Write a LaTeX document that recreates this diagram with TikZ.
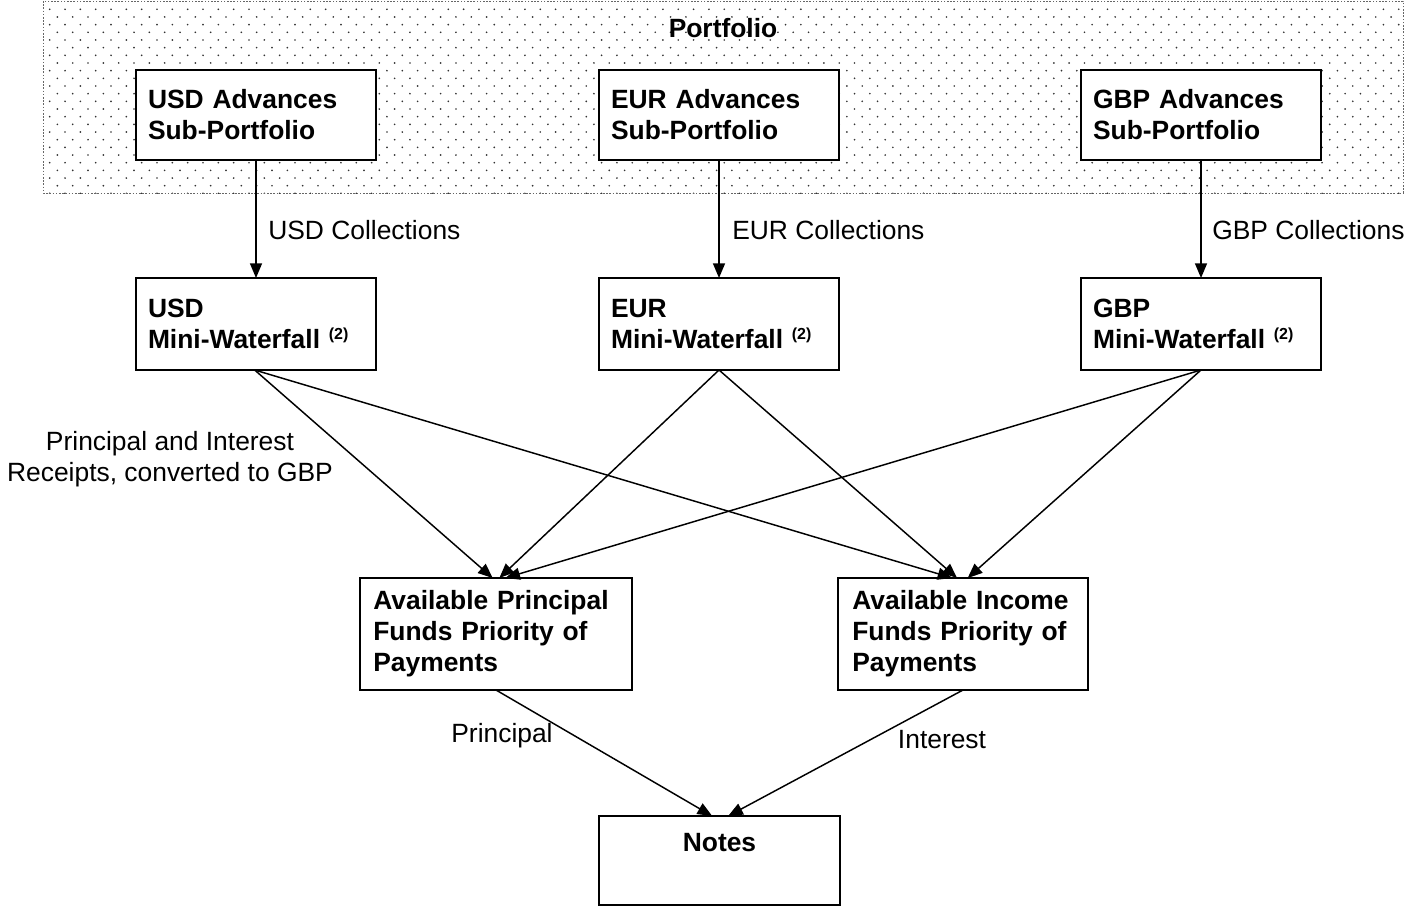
\documentclass[tikz,border=0pt]{standalone}
\usepackage{fontspec}
\setmainfont{Liberation Sans}
\usetikzlibrary{arrows.meta}
\begin{document}
\begin{tikzpicture}[x=0.75pt,y=-0.75pt,
  font=\fontsize{19.8}{23.25}\selectfont,
  box/.style={draw,line width=1.5pt,fill=white,outer sep=0pt,inner ysep=0pt,align=left},
  topbox/.style={box,minimum width=180pt,minimum height=67.5pt,inner xsep=9pt,text width=162pt,font=\fontsize{19.8}{23.25}\selectfont\bfseries},
  prbox/.style={box,minimum height=84pt,inner xsep=10pt,font=\fontsize{19.8}{23.25}\selectfont\bfseries},
  flow/.style={line width=1.1pt,-{Triangle[length=11pt,width=9pt]}},
  lbl/.style={inner sep=0pt,align=center}]
\useasboundingbox (0,0) rectangle (1408,906);

% portfolio area: dotted background with a fine dashed border
\begin{scope}
  \clip (43,1) rectangle (1403,193);
  \foreach \r in {0,...,24}{
    \foreach \c in {0,...,89}{
      \fill[black!80] ({49.7+15.33*\c+7.67*mod(\r,2)},{9.3+7.67*\r}) circle (0.7pt);
    }
  }
\end{scope}
\draw[black!60,line width=0.6pt,dash pattern=on 1.2pt off 1.2pt] (43,1) rectangle (1403,193);
\node[font=\fontsize{19.8}{23.25}\selectfont\bfseries] (portfolio) at (723,28) {Portfolio};

% sub-portfolios
\node[topbox] (usdP) at (256,115) {USD Advances\\Sub-Portfolio};
\node[topbox] (eurP) at (719,115) {EUR Advances\\Sub-Portfolio};
\node[topbox] (gbpP) at (1201,115) {GBP Advances\\Sub-Portfolio};

% mini-waterfalls
\newcommand{\fnref}{\ \raisebox{7pt}{\fontsize{12}{12}\selectfont(2)}}
\node[topbox,minimum height=69pt] (usdM) at (256,324) {USD\\Mini-Waterfall\fnref};
\node[topbox,minimum height=69pt] (eurM) at (719,324) {EUR\\Mini-Waterfall\fnref};
\node[topbox,minimum height=69pt] (gbpM) at (1201,324) {GBP\\Mini-Waterfall\fnref};

% priorities of payments
\node[prbox,text width=184pt] (prin) at (496,634) {Available Principal\\Funds Priority of\\Payments};
\node[prbox,text width=166pt,inner xsep=11pt] (inc) at (963,634) {Available Income\\Funds Priority of\\Payments};

% notes
\node[box,minimum width=180.75pt,minimum height=66.75pt] (notes) at (719.5,860.5) {};
\node[font=\fontsize{19.8}{23.25}\selectfont\bfseries,inner sep=0pt] (notestxt) at (719.5,843) {Notes};

% collections
\draw[flow] (usdP.south) -- (usdM.north);
\draw[flow] (eurP.south) -- (eurM.north);
\draw[flow] (gbpP.south) -- (gbpM.north);
\node[lbl,anchor=west] (usdC) at (268,230) {USD Collections};
\node[lbl,anchor=west] (eurC) at (732,230) {EUR Collections};
\node[lbl,anchor=west] (gbpC) at (1212,230) {GBP Collections};

% receipts into the two priorities of payments
\draw[flow] ([xshift=-1pt]usdM.south) -- ([xshift=-2.5pt]prin.north);
\draw[flow] ([xshift=-1pt]usdM.south) -- ([xshift=-8pt]inc.north);
\draw[flow] (eurM.south) -- ([xshift=2.5pt]prin.north);
\draw[flow] (eurM.south) -- ([xshift=-4.5pt]inc.north);
\draw[flow] (gbpM.south) -- ([xshift=7pt]prin.north);
\draw[flow] (gbpM.south) -- ([xshift=3.5pt]inc.north);
\node[lbl] (receipts) at (170,459) {Principal and Interest\\Receipts, converted to GBP};

% payments on the notes
\draw[flow] (prin.south) -- ([xshift=-5.5pt]notes.north);
\draw[flow] (inc.south) -- ([xshift=6.5pt]notes.north);
\node[lbl] (plbl) at (502,736) {Principal};
\node[lbl] (ilbl) at (942,740) {Interest};
\end{tikzpicture}
\end{document}
